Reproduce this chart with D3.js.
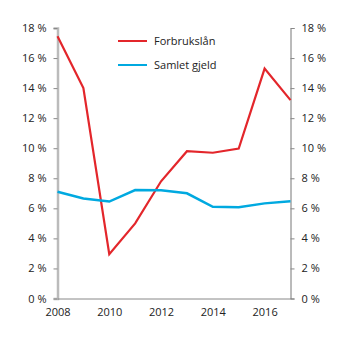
<!DOCTYPE html>
<html><head><meta charset="utf-8">
<script src="https://cdn.jsdelivr.net/npm/d3@7"></script>
<style>body{margin:0;background:#fff}svg{display:block}text{font-family:"Open Sans",sans-serif;font-size:11px;fill:#222}</style>
</head><body>
<svg id="c" width="346" height="341"></svg>
<script>
const years = [2008,2009,2010,2011,2012,2013,2014,2015,2016,2017];
const forbrukslan = [17.45,14.0,2.95,5.0,7.8,9.8,9.7,9.98,15.3,13.2];
const samletGjeld = [7.1,6.65,6.45,7.22,7.2,7.0,6.1,6.07,6.33,6.47];
const yTicks = [0,2,4,6,8,10,12,14,16,18];
const xTicks = [2008,2010,2012,2014,2016];
const seriesNames = ["Forbrukslån","Samlet gjeld"];
const colors = ["#e3262b","#00a9e0"];

const svg = d3.select("#c");
const x = d3.scaleLinear().domain([2008,2017]).range([57.5,290.5]);
const y = d3.scaleLinear().domain([0,18]).range([298.5,28]);
const fmt = d => d + " %";

// left axis
const la = svg.append("g").attr("transform","translate(57.5,0)")
  .call(d3.axisLeft(y).tickValues(yTicks).tickFormat(fmt).tickSize(4).tickPadding(7));
la.select(".domain").attr("stroke","#bbb").attr("stroke-width",2.5);
la.selectAll(".tick line").attr("stroke","#888");
la.selectAll("text").attr("font-size",11);

// right axis
const ra = svg.append("g").attr("transform","translate(290.5,0)")
  .call(d3.axisRight(y).tickValues(yTicks).tickFormat(fmt).tickSize(4).tickPadding(7));
ra.select(".domain").attr("stroke","#777");
ra.selectAll(".tick line").attr("stroke","#888");

// bottom axis
const ba = svg.append("g").attr("transform","translate(0,298.5)")
  .call(d3.axisBottom(x).tickValues(xTicks).tickFormat(d3.format("d")).tickSize(0).tickPadding(10));
ba.select(".domain").attr("stroke","#888");

const line = d3.line().x((d,i)=>x(years[i])).y(d=>y(d));
[forbrukslan, samletGjeld].forEach((s,k)=>{
  svg.append("path").datum(s).attr("d",line).attr("fill","none")
    .attr("stroke",colors[k]).attr("stroke-width",k?2.5:2.2).attr("stroke-linejoin","miter");
});

// legend
seriesNames.forEach((n,k)=>{
  const ly = 41 + k*24;
  svg.append("line").attr("x1",118).attr("x2",147).attr("y1",ly).attr("y2",ly)
    .attr("stroke",colors[k]).attr("stroke-width",2);
  svg.append("text").attr("x",154).attr("y",ly+4).text(n);
});
</script>
</body></html>
